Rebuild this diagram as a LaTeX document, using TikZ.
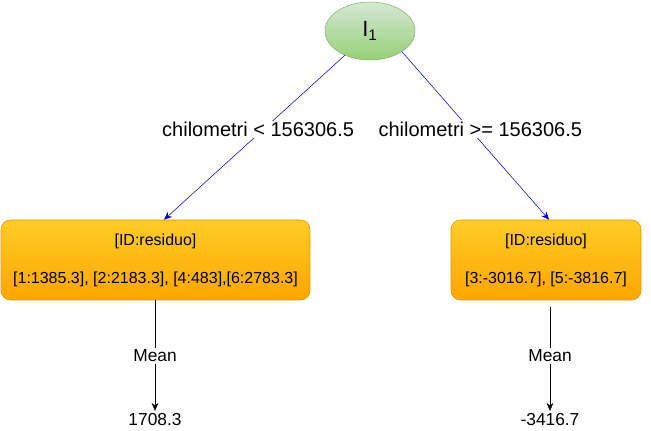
\documentclass[tikz,border=0pt]{standalone}
\usepackage{fontspec}
\setmainfont{Liberation Sans}
\usetikzlibrary{shapes.geometric,arrows.meta}

\definecolor{leafTop}{HTML}{FFCD28}
\definecolor{leafBot}{HTML}{FFA500}
\definecolor{leafLine}{HTML}{D79B00}
\definecolor{rootTop}{HTML}{D5E8D4}
\definecolor{rootBot}{HTML}{97D077}
\definecolor{rootLine}{HTML}{82B366}
\definecolor{splitBlue}{HTML}{0000CC}

\tikzset{
  splitnode/.style={ellipse, draw=rootLine, top color=rootTop, bottom color=rootBot,
    minimum width=67.5pt, minimum height=43.5pt, inner sep=0pt,
    font=\fontsize{16.5}{20}\selectfont},
  leafbox/.style={rectangle, rounded corners=7pt, draw=leafLine, top color=leafTop,
    bottom color=leafBot, minimum height=60pt, align=center, inner sep=0pt,
    font=\fontsize{12}{14}\selectfont},
  split/.style={draw=splitBlue, -{Stealth[length=6pt,width=5pt]}},
  splitlabel/.style={fill=white, inner sep=1pt, font=\fontsize{15}{17}\selectfont},
  meanarrow/.style={draw=black, -{Stealth[length=6pt,width=5pt]}},
  meanlabel/.style={fill=white, inner sep=1.5pt, font=\fontsize{13}{15}\selectfont},
  meanvalue/.style={inner sep=2pt, font=\fontsize{13}{15}\selectfont}
}

\begin{document}
\begin{tikzpicture}[x=0.75pt,y=-0.75pt]
\useasboundingbox (0,0) rectangle (651,431);

% root split
\node[splitnode] (root) at (370,31) {I\textsubscript{1}};

% leaves
\node[leafbox, minimum width=231.75pt] (lbox) at (155.5,260)
  {[ID:residuo]\\[14.5pt][1:1385.3], [2:2183.3], [4:483],[6:2783.3]};
\node[leafbox, minimum width=142.5pt] (rbox) at (546,260)
  {[ID:residuo]\\[14.5pt][3:-3016.7], [5:-3816.7]};

% split edges
\draw[split] (root.224) -- node[splitlabel, pos=0.45, xshift=-4pt] {chilometri < 156306.5}
  ([xshift=6.4pt]lbox.north);
\draw[split] (root.-33) -- node[splitlabel, pos=0.46, xshift=8pt] {chilometri >= 156306.5}
  ([xshift=2.3pt]rbox.north);

% mean values
\node[meanvalue] (lval) at (155,420) {1708.3};
\node[meanvalue] (rval) at (550,420) {-3416.7};

\draw[meanarrow] (lbox.south -| lval) -- node[meanlabel, pos=0.5] {Mean} (lval.north);
\draw[meanarrow] ([yshift=-5pt]rbox.south -| rval) -- node[meanlabel, pos=0.47] {Mean} (rval.north);
\end{tikzpicture}
\end{document}
